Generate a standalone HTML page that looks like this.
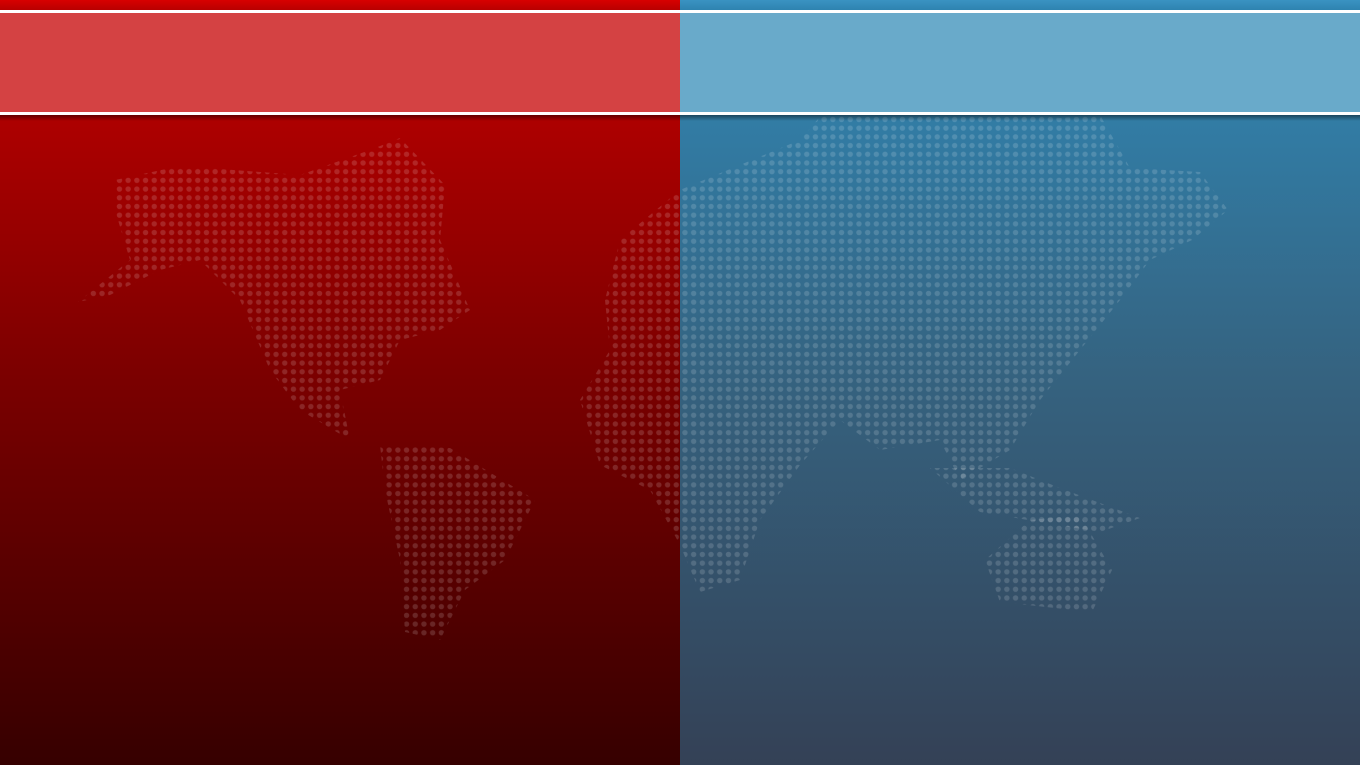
<!DOCTYPE html>
<html><head><meta charset="utf-8"><style>
html,body{margin:0;padding:0;width:1360px;height:765px;overflow:hidden}
#root{position:relative;width:1360px;height:765px}
.abs{position:absolute}
</style></head><body>
<div id="root">
<svg class="abs" style="left:0;top:0" width="1360" height="765">
<defs>
<linearGradient id="redg" x1="0" y1="0" x2="0" y2="1">
<stop offset="0" stop-color="#c40000"/><stop offset="0.5" stop-color="#7a0000"/><stop offset="1" stop-color="#360000"/>
</linearGradient>
<linearGradient id="blueg" x1="0" y1="0" x2="0" y2="1">
<stop offset="0" stop-color="#3088b6"/><stop offset="0.5" stop-color="#35627f"/><stop offset="1" stop-color="#344156"/>
</linearGradient>
<linearGradient id="topred" x1="0" y1="0" x2="0" y2="1"><stop offset="0" stop-color="#d80000"/><stop offset="1" stop-color="#b80000"/></linearGradient>
<linearGradient id="topblue" x1="0" y1="0" x2="0" y2="1"><stop offset="0" stop-color="#3a93c2"/><stop offset="1" stop-color="#2e83b0"/></linearGradient>
<linearGradient id="shadow" x1="0" y1="0" x2="0" y2="1"><stop offset="0" stop-color="#000" stop-opacity="0.45"/><stop offset="1" stop-color="#000" stop-opacity="0"/></linearGradient>
<pattern id="dots" x="2" y="2" width="8.7" height="8.7" patternUnits="userSpaceOnUse">
<circle cx="4.35" cy="4.35" r="2.7" fill="#ffffff" fill-opacity="0.15"/>
</pattern>
</defs>
<rect x="0" y="0" width="680" height="765" fill="url(#redg)"/>
<rect x="680" y="0" width="680" height="765" fill="url(#blueg)"/>
<g fill="url(#dots)">
<polygon points="115,180 180,166 300,175 370,150 400,138 445,185 440,240 470,310 440,330 400,340 380,380 340,390 350,440 300,410 270,370 240,300 200,260 160,270 110,295 78,302 130,260 115,210"/>
<polygon points="380,445 450,448 535,500 505,560 465,590 440,640 405,632 400,560 385,490"/>
<polygon points="605,300 620,240 680,190 800,140 830,105 915,52 962,68 980,110 1060,118 1100,115 1130,168 1200,172 1228,210 1192,240 1150,260 1120,300 1080,350 1040,400 1010,450 960,480 940,440 880,450 840,420 800,465 760,520 740,580 700,592 680,545 650,490 600,465 580,400 610,350"/>
<polygon points="930,468 1010,468 1060,488 1140,518 1100,532 980,512"/>
<polygon points="985,560 1030,520 1080,515 1112,570 1092,612 1000,602"/>
</g>
<rect x="0" y="115" width="1360" height="6" fill="url(#shadow)"/>
<rect x="0" y="0" width="680" height="10" fill="url(#topred)"/>
<rect x="680" y="0" width="680" height="10" fill="url(#topblue)"/>
<rect x="0" y="10" width="1360" height="3" fill="#ffffff"/>
<rect x="0" y="13" width="680" height="99" fill="#d44243"/>
<rect x="680" y="13" width="680" height="99" fill="#69aaca"/>
<rect x="0" y="112" width="1360" height="3" fill="#ffffff"/>
</svg>
</div>
</body></html>
